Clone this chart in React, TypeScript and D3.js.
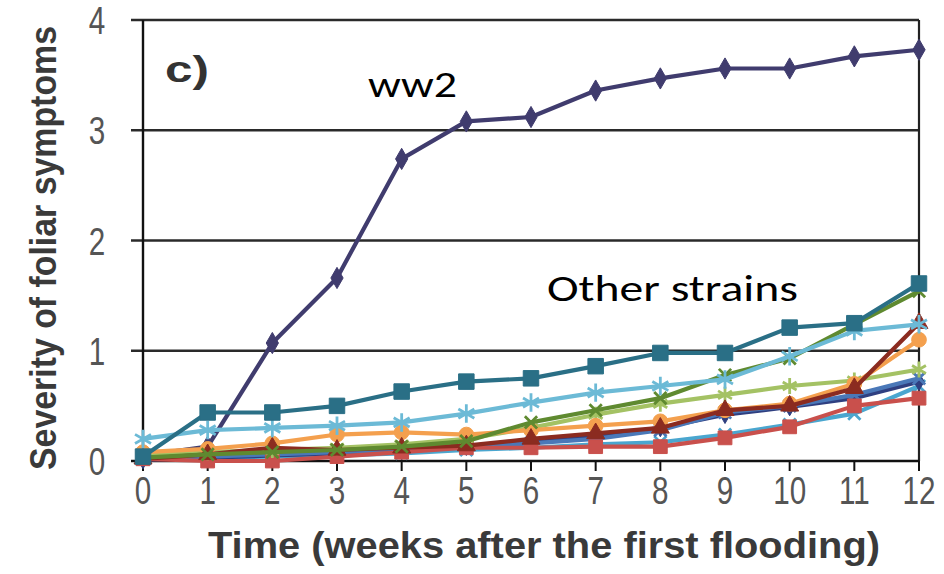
import React from "react";
import * as d3 from "d3";

const weeks = [0, 1, 2, 3, 4, 5, 6, 7, 8, 9, 10, 11, 12];
const yTicks = [0, 1, 2, 3, 4];

const ww2 = [0.05, 0.13, 1.07, 1.66, 2.74, 3.08, 3.12, 3.36, 3.47, 3.56, 3.56, 3.67, 3.73];
const tealSquare = [0.04, 0.44, 0.44, 0.5, 0.63, 0.72, 0.75, 0.86, 0.98, 0.98, 1.21, 1.25, 1.61];
const lightBlueStar = [0.2, 0.28, 0.3, 0.32, 0.35, 0.43, 0.53, 0.62, 0.68, 0.74, 0.95, 1.18, 1.24];
const oliveGreen = [0.03, 0.06, 0.08, 0.1, 0.13, 0.18, 0.35, 0.46, 0.57, 0.78, 0.93, 1.24, 1.54];
const yellowGreen = [0.05, 0.08, 0.1, 0.12, 0.15, 0.2, 0.3, 0.42, 0.52, 0.6, 0.68, 0.73, 0.83];
const orangeCircle = [0.08, 0.11, 0.16, 0.24, 0.26, 0.24, 0.28, 0.32, 0.36, 0.46, 0.52, 0.7, 1.1];
const maroonTriangle = [0.02, 0.06, 0.12, 0.1, 0.12, 0.14, 0.2, 0.25, 0.3, 0.46, 0.5, 0.66, 1.25];
const redSquare = [0.02, 0.0, 0.0, 0.04, 0.08, 0.12, 0.12, 0.13, 0.13, 0.21, 0.31, 0.5, 0.57];
const blueLine = [0.02, 0.04, 0.06, 0.08, 0.1, 0.13, 0.16, 0.2, 0.28, 0.44, 0.5, 0.6, 0.75];
const navyLine = [0.01, 0.03, 0.05, 0.07, 0.09, 0.13, 0.17, 0.22, 0.3, 0.42, 0.49, 0.57, 0.72];
const lightBlueLow = [0.02, 0.03, 0.04, 0.05, 0.07, 0.1, 0.12, 0.15, 0.17, 0.24, 0.33, 0.43, 0.68];

type Series = { name: string; values: number[]; color: string; symbol: any; size: number; stroke?: boolean };

const series: Series[] = [
  { name: "ww2", values: ww2, color: "#403c6e", symbol: d3.symbolDiamond, size: 130 },
  { name: "lightBlueLow", values: lightBlueLow, color: "#4aa6cf", symbol: d3.symbolX, size: 100, stroke: true },
  { name: "navy", values: navyLine, color: "#2f3f80", symbol: d3.symbolDiamond, size: 90 },
  { name: "blue", values: blueLine, color: "#4a78b8", symbol: d3.symbolX, size: 100, stroke: true },
  { name: "redSquare", values: redSquare, color: "#c9504c", symbol: d3.symbolSquare, size: 190 },
  { name: "yellowGreen", values: yellowGreen, color: "#a4c264", symbol: d3.symbolAsterisk, size: 180, stroke: true },
  { name: "orange", values: orangeCircle, color: "#f4a04e", symbol: d3.symbolCircle, size: 170 },
  { name: "maroon", values: maroonTriangle, color: "#8b2b20", symbol: d3.symbolTriangle, size: 140 },
  { name: "olive", values: oliveGreen, color: "#5f8a30", symbol: d3.symbolX, size: 100, stroke: true },
  { name: "lightBlueStar", values: lightBlueStar, color: "#6cbad6", symbol: d3.symbolAsterisk, size: 240, stroke: true },
  { name: "teal", values: tealSquare, color: "#2a6f86", symbol: d3.symbolSquare, size: 240 },
];

export default function App() {
  const W = 944;
  const H = 574;
  const x = d3.scaleLinear().domain([0, 12]).range([143, 919]);
  const y = d3.scaleLinear().domain([0, 4]).range([461, 20]);
  const line = d3
    .line<number>()
    .x((_, i) => x(weeks[i]))
    .y((d) => y(d));

  const axisFont = "'Liberation Sans', Arial, sans-serif";
  const labelFont = "Carlito, 'Open Sans', 'Noto Sans', sans-serif";
  const textColor = "#555";

  return (
    <svg width={W} height={H} style={{ position: "absolute", left: 0, top: 0, background: "#fff" }}>
      <rect x={0} y={0} width={W} height={H} fill="#fff" />
      {/* gridlines */}
      {yTicks.filter((t) => t > 0).map((t) => (
        <line key={t} x1={131} x2={919} y1={y(t)} y2={y(t)} stroke="#2a2a2a" strokeWidth={2.6} />
      ))}
      {/* axes */}
      <line x1={143} x2={143} y1={y(4)} y2={y(0)} stroke="#111" strokeWidth={2.4} />
      <line x1={919} x2={919} y1={y(4)} y2={y(0)} stroke="#222" strokeWidth={2.2} />
      <line x1={131} x2={919} y1={y(0)} y2={y(0)} stroke="#111" strokeWidth={2.6} />
      {weeks.map((w) => (
        <line key={w} x1={x(w)} x2={x(w)} y1={y(0)} y2={y(0) + 10} stroke="#111" strokeWidth={2} />
      ))}
      {/* y tick labels */}
      {yTicks.map((t) => (
        <text
          key={t}
          transform={`translate(97,${y(t) + 14}) scale(0.78,1)`}
          textAnchor="middle"
          fontFamily={axisFont}
          fontSize={38}
          fill={textColor}
        >
          {t}
        </text>
      ))}
      {/* x tick labels */}
      {weeks.map((w) => (
        <text
          key={w}
          transform={`translate(${x(w)},${504}) scale(0.78,1)`}
          textAnchor="middle"
          fontFamily={axisFont}
          fontSize={38}
          fill={textColor}
        >
          {w}
        </text>
      ))}
      {/* axis titles */}
      <text
        x={544}
        y={558}
        textAnchor="middle"
        fontFamily={axisFont}
        fontWeight="bold"
        fontSize={37}
        fill="#3a3a3a"
        textLength={672}
        lengthAdjust="spacingAndGlyphs"
      >
        Time (weeks after the first flooding)
      </text>
      <text
        transform={`translate(56,${248}) rotate(-90)`}
        textAnchor="middle"
        fontFamily={axisFont}
        fontWeight="bold"
        fontSize={36}
        fill="#3a3a3a"
        textLength={444}
        lengthAdjust="spacingAndGlyphs"
      >
        Severity of foliar symptoms
      </text>
      {/* series */}
      {series.map((s) => (
        <g key={s.name}>
          <path d={line(s.values) || ""} fill="none" stroke={s.color} strokeWidth={4.2} strokeLinejoin="round" />
          {s.values.map((v, i) => (
            <path
              key={i}
              transform={`translate(${x(weeks[i])},${y(v)})`}
              d={d3.symbol().type(s.symbol).size(s.size)() || ""}
              fill={s.stroke ? "none" : s.color}
              stroke={s.color}
              strokeWidth={s.stroke ? 2.8 : 1}
            />
          ))}
        </g>
      ))}
      {/* annotations */}
      <text
        x={165}
        y={82}
        fontFamily={axisFont}
        fontWeight="bold"
        fontSize={36}
        fill="#333"
        textLength={44}
        lengthAdjust="spacingAndGlyphs"
      >
        c)
      </text>
      <text
        x={368}
        y={97}
        fontFamily={labelFont}
        fontSize={36}
        fill="#000"
        textLength={89}
        lengthAdjust="spacingAndGlyphs"
      >
        ww2
      </text>
      <text
        x={547}
        y={301}
        fontFamily={labelFont}
        fontSize={36}
        fill="#000"
        textLength={251}
        lengthAdjust="spacingAndGlyphs"
      >
        Other strains
      </text>
    </svg>
  );
}
